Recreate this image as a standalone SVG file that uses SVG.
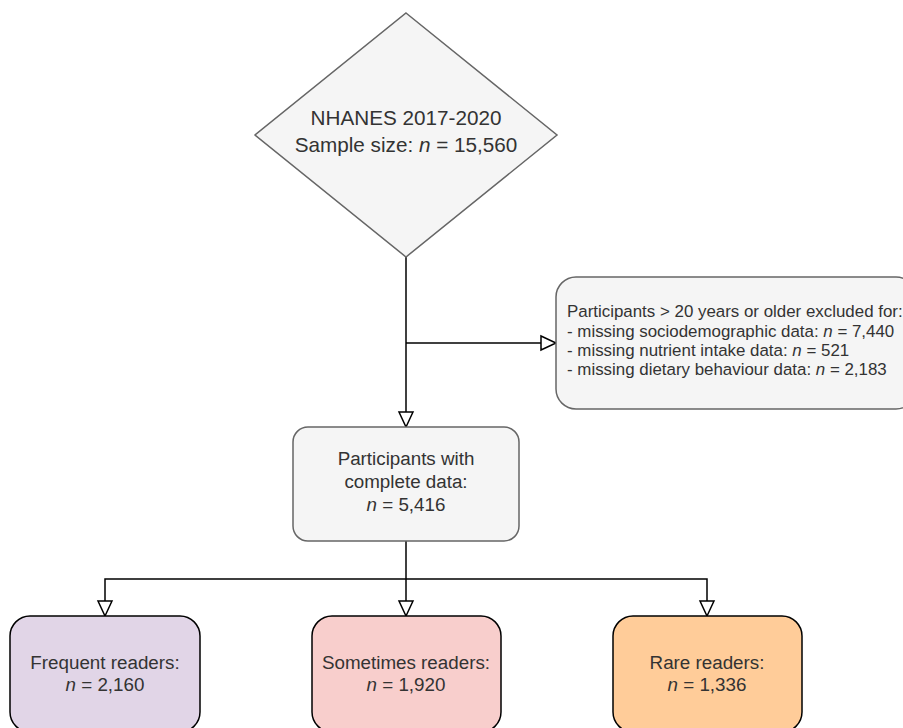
<svg xmlns="http://www.w3.org/2000/svg" width="903" height="728" viewBox="0 0 903 728">
<defs>
<style>
.gray{fill:#f5f5f5;stroke:#666666;stroke-width:1.5}
.col{stroke:#000000;stroke-width:1.5}
text{font-family:"Liberation Sans",Arial,sans-serif;fill:#333333}
.c{text-anchor:middle}
.conn{fill:none;stroke:#000000;stroke-width:1.5}
</style>
<marker id="arr" markerUnits="userSpaceOnUse" markerWidth="20" markerHeight="20" viewBox="-2 -2 20 20" refX="15" refY="7" orient="auto">
<path d="M0,0 L15,7 L0,14 Z" fill="#ffffff" stroke="#000000" stroke-width="1.5"/>
</marker>
</defs>
<rect width="903" height="728" fill="#ffffff"/>
<g id="connectors">
<path class="conn" d="M406,257 V427" marker-end="url(#arr)"/>
<path class="conn" d="M406,343 H556" marker-end="url(#arr)"/>
<path class="conn" d="M406,541 V616" marker-end="url(#arr)"/>
<path class="conn" d="M406,579 H105 V616" marker-end="url(#arr)"/>
<path class="conn" d="M406,579 H707 V616" marker-end="url(#arr)"/>
</g>
<g id="nhanes">
<polygon class="gray" points="406,13 557,135 406,257 255,135"/>
<text class="c" x="406" y="125" font-size="20.7">NHANES 2017-2020</text>
<text class="c" x="406" y="152" font-size="20.7">Sample size: <tspan font-style="italic">n</tspan> = 15,560</text>
</g>
<g id="excluded">
<rect class="gray" x="556" y="277" width="360" height="132" rx="20" ry="20"/>
<text x="567" y="317" font-size="16.9">Participants &gt; 20 years or older excluded for:</text>
<text x="567" y="337" font-size="16.9">- missing sociodemographic data: <tspan font-style="italic">n</tspan> = 7,440</text>
<text x="567" y="356" font-size="16.9">- missing nutrient intake data: <tspan font-style="italic">n</tspan> = 521</text>
<text x="567" y="375" font-size="16.9">- missing dietary behaviour data: <tspan font-style="italic">n</tspan> = 2,183</text>
</g>
<g id="complete">
<rect class="gray" x="293" y="427" width="226" height="114" rx="15" ry="15"/>
<text class="c" x="406" y="465" font-size="18.8">Participants with</text>
<text class="c" x="406" y="488" font-size="18.8">complete data:</text>
<text class="c" x="406" y="511" font-size="18.8"><tspan font-style="italic">n</tspan> = 5,416</text>
</g>
<g id="frequent">
<rect class="col" fill="#e1d5e7" x="10" y="616" width="190" height="116" rx="20" ry="20"/>
<text class="c" x="105" y="669" font-size="18.8">Frequent readers:</text>
<text class="c" x="105" y="691" font-size="18.8"><tspan font-style="italic">n</tspan> = 2,160</text>
</g>
<g id="sometimes">
<rect class="col" fill="#f8cecc" x="312" y="616" width="189" height="116" rx="20" ry="20"/>
<text class="c" x="406" y="669" font-size="18.8">Sometimes readers:</text>
<text class="c" x="406" y="691" font-size="18.8"><tspan font-style="italic">n</tspan> = 1,920</text>
</g>
<g id="rare">
<rect class="col" fill="#ffcc99" x="613" y="616" width="189" height="116" rx="20" ry="20"/>
<text class="c" x="707" y="669" font-size="18.8">Rare readers:</text>
<text class="c" x="707" y="691" font-size="18.8"><tspan font-style="italic">n</tspan> = 1,336</text>
</g>
</svg>
